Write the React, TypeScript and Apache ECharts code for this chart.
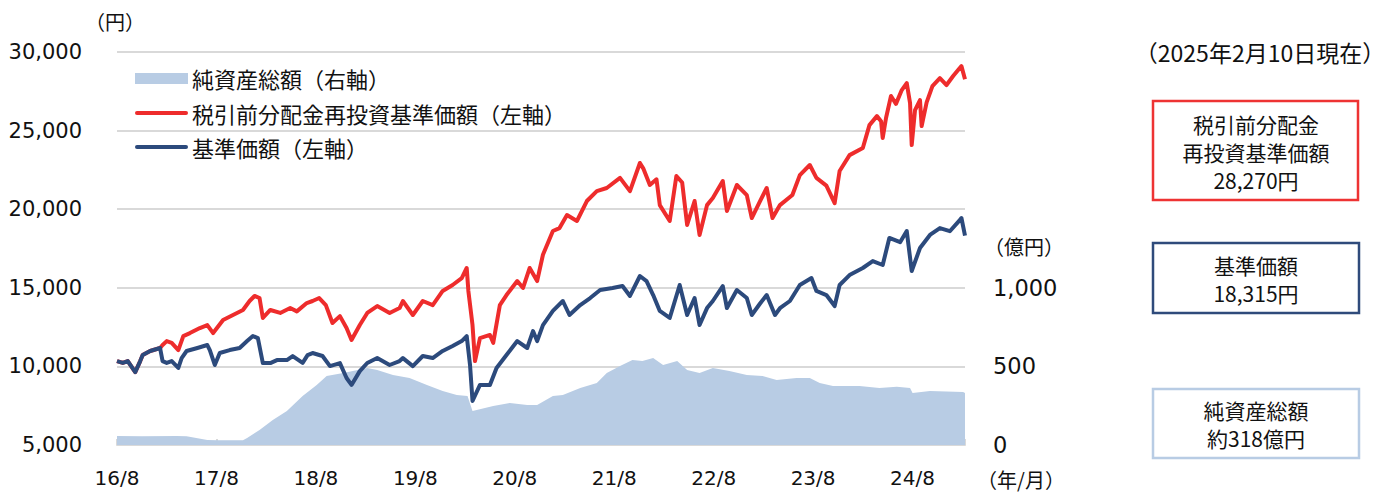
import React, { useEffect, useRef } from "react";
import * as echarts from "echarts";

// x = months since 2016/08 ; last point = 2025/02/10
const xTickLabels = ["16/8", "17/8", "18/8", "19/8", "20/8", "21/8", "22/8", "23/8", "24/8"];
const xMax = 102.33;

// 基準価額（左軸）
const navData: [number, number][] = [
  [0.0, 10340], [0.7, 10220], [1.3, 10340], [2.2, 9640], [2.8, 10340], [3.1, 10720], [4.0, 10980],
  [5.2, 11170], [5.5, 10340], [6.0, 10220], [6.6, 10340], [7.4, 9900], [7.8, 10530], [8.4, 10980],
  [9.7, 11170], [10.9, 11360], [11.2, 11040], [11.8, 10090], [12.4, 10850], [13.6, 11040],
  [14.8, 11170], [15.7, 11610], [16.4, 11930], [17.0, 11800], [17.6, 10210], [18.5, 10210],
  [19.3, 10400], [20.5, 10400], [21.2, 10660], [22.4, 10220], [23.0, 10720], [23.6, 10850],
  [24.8, 10660], [25.7, 10020], [26.9, 10210], [27.7, 9260], [28.3, 8820], [29.3, 9700],
  [30.2, 10216], [31.4, 10530], [32.9, 10090], [34.1, 10340], [34.5, 10530], [35.7, 10020],
  [36.9, 10660], [38.1, 10530], [39.3, 10980], [40.5, 11300], [41.6, 11610], [42.2, 11930],
  [42.6, 10090], [42.9, 7800], [43.8, 8820], [45.0, 8820], [45.8, 9900], [47.0, 10720],
  [48.3, 11610], [49.5, 11170], [50.2, 12250], [50.7, 11610], [51.4, 12630], [52.6, 13530],
  [53.8, 14160], [54.6, 13270], [55.9, 13900], [57.1, 14350], [58.3, 14860], [59.8, 14990],
  [61.0, 15110], [61.9, 14480], [63.1, 15750], [63.9, 15430], [64.7, 14540], [65.5, 13530],
  [66.7, 13080], [67.9, 15180], [68.8, 13270], [69.7, 14350], [70.3, 12630], [71.2, 13710],
  [71.9, 14160], [73.1, 15110], [73.6, 13710], [74.8, 14860], [76.0, 14350], [76.6, 13270],
  [77.6, 14000], [78.4, 14540], [79.4, 13270], [80.0, 13700], [81.2, 14160], [82.4, 15180],
  [83.8, 15620], [84.4, 14800], [85.6, 14540], [86.6, 13840], [87.2, 15180], [88.4, 15810],
  [90.0, 16260], [91.2, 16700], [92.4, 16450], [93.2, 18170], [94.5, 17900], [95.3, 18610],
  [95.9, 16070], [96.9, 17530], [98.1, 18360], [99.3, 18800], [100.5, 18600], [101.7, 19310],
  [101.9, 19440], [102.33, 18315],
];

// 税引前分配金再投資基準価額（左軸）
const reinvestData: [number, number][] = [
  [0.0, 10340], [0.7, 10220], [1.3, 10340], [2.2, 9640], [2.8, 10340], [3.1, 10720], [4.0, 10980],
  [5.2, 11170], [5.5, 11360], [6.0, 11610], [6.6, 11500], [7.4, 11040], [8.0, 11930], [8.8, 12120],
  [10.0, 12440], [10.9, 12630], [11.6, 12120], [12.8, 12950], [14.0, 13270], [15.2, 13590],
  [16.0, 14160], [16.6, 14480], [17.2, 14350], [17.6, 13080], [18.5, 13590], [19.7, 13400],
  [20.9, 13710], [21.7, 13500], [22.9, 14030], [23.6, 14160], [24.4, 14350], [25.2, 13900],
  [26.0, 12760], [26.9, 13200], [27.7, 12440], [28.3, 11680], [29.3, 12630], [30.2, 13400],
  [31.4, 13840], [32.9, 13400], [34.1, 13710], [34.5, 14160], [35.7, 13270], [36.9, 14160],
  [38.1, 13900], [39.3, 14800], [40.5, 15180], [41.6, 15620], [42.2, 16260], [42.4, 14800],
  [42.9, 12630], [43.2, 10340], [43.8, 11800], [45.0, 12000], [45.4, 11500], [46.2, 13900],
  [47.0, 14540], [48.3, 15430], [49.0, 14990], [49.8, 16260], [50.7, 15430], [51.4, 17100],
  [52.6, 18610], [53.4, 18800], [54.3, 19630], [55.5, 19250], [56.7, 20520], [57.9, 21150],
  [59.1, 21350], [60.7, 21990], [61.9, 21150], [63.1, 22940], [63.5, 22600], [64.3, 21540],
  [65.1, 21900], [65.5, 20260], [66.7, 19250], [67.5, 22110], [68.2, 21700], [68.8, 19000],
  [69.7, 20520], [70.3, 18360], [71.2, 20260], [71.9, 20710], [73.1, 21790], [73.6, 19880],
  [74.8, 21540], [76.0, 20900], [76.6, 19440], [77.6, 20520], [78.4, 21350], [79.1, 19440],
  [80.0, 20260], [81.5, 20900], [82.4, 22170], [83.6, 22810], [84.4, 21990], [85.6, 21500],
  [86.6, 20390], [87.2, 22430], [88.4, 23440], [90.0, 23890], [90.8, 25350], [91.7, 25920],
  [92.2, 25600], [92.4, 24530], [92.8, 25800], [93.4, 27200], [94.0, 26700], [94.7, 27580],
  [95.3, 28020], [95.7, 26750], [95.9, 24080], [96.3, 26300], [96.9, 26940], [97.1, 25290],
  [97.7, 26800], [98.4, 27830], [99.3, 28340], [100.1, 27900], [100.9, 28470], [101.7, 28980],
  [101.9, 29100], [102.33, 28270],
];

// 純資産総額（右軸, 億円）
const assetsData: [number, number][] = [
  [0.0, 57], [3.0, 56], [7.2, 57], [8.4, 55], [10.9, 32], [12.1, 30], [15.2, 30], [15.7, 45],
  [17.2, 95], [18.8, 159], [20.5, 216], [22.4, 312], [24.1, 382], [25.3, 439], [27.3, 458],
  [30.2, 490], [31.4, 477], [33.3, 445], [35.3, 426], [37.4, 382], [39.3, 343], [41.0, 318],
  [42.3, 312], [42.9, 216], [45.4, 248], [47.4, 267], [49.5, 254], [50.7, 254], [52.6, 312],
  [53.8, 318], [55.9, 362], [57.9, 394], [59.1, 458], [60.7, 502], [62.2, 541], [63.4, 534],
  [64.7, 553], [65.9, 509], [67.6, 534], [68.8, 477], [70.3, 458], [71.9, 490], [73.9, 471],
  [76.0, 445], [77.9, 439], [79.6, 413], [82.0, 426], [83.6, 426], [84.8, 394], [86.4, 375],
  [89.6, 375], [92.0, 362], [94.1, 370], [95.7, 362], [96.0, 331], [98.1, 343], [102.1, 337],
  [102.33, 330],
];

const RED = "#EE2C2C";
const BLUE = "#2C4A7C";
const AREA = "#B8CCE4";
const GRID = "#D9D9D9";
const JP = "'Noto Sans CJK JP', sans-serif";
const NUM = "'DejaVu Sans', sans-serif";

const fmt = (v: number) => v.toLocaleString("en-US");

const txt = (x: number, y: number, text: string, font: string, align = "center", lineHeight = 24) => ({
  type: "text",
  x,
  y,
  style: { text, font, fill: "#111", align, verticalAlign: "middle", lineHeight },
});

export default function App() {
  const ref = useRef<HTMLDivElement>(null);
  useEffect(() => {
    const chart = echarts.init(ref.current!, null, { renderer: "svg" });
    chart.setOption({
      animation: false,
      grid: { left: 117, right: 422, top: 52, bottom: 49 },
      xAxis: {
        type: "value",
        min: 0,
        max: xMax,
        interval: 12,
        axisLine: { show: true, onZero: false, lineStyle: { color: GRID, width: 2 } },
        axisTick: { show: true, inside: true, length: 6, lineStyle: { color: GRID, width: 2 } },
        splitLine: { show: false },
        axisLabel: {
          margin: 23,
          fontSize: 20,
          fontFamily: NUM,
          color: "#111",
          formatter: (v: number) => {
            const i = Math.round(v / 12);
            return Math.abs(v - i * 12) < 1e-6 ? xTickLabels[i] ?? "" : "";
          },
        },
      },
      yAxis: [
        {
          type: "value",
          min: 5000,
          max: 30000,
          interval: 5000,
          axisLine: { show: false },
          axisTick: { show: false },
          splitLine: { show: true, lineStyle: { color: GRID, width: 2 } },
          axisLabel: { margin: 35, fontSize: 21, fontFamily: NUM, color: "#111", formatter: (v: number) => fmt(v) },
        },
        {
          type: "value",
          position: "right",
          min: 0,
          max: 2500,
          interval: 500,
          axisLine: { show: false },
          axisTick: { show: false },
          splitLine: { show: false },
          axisLabel: {
            margin: 28,
            fontSize: 22.5,
            fontFamily: NUM,
            color: "#111",
            formatter: (v: number) => (v <= 1000 ? fmt(v) : ""),
          },
        },
      ],
      series: [
        {
          name: "純資産総額（右軸）",
          type: "line",
          yAxisIndex: 1,
          data: assetsData,
          symbol: "none",
          lineStyle: { width: 0 },
          areaStyle: { color: AREA, opacity: 1 },
          itemStyle: { color: AREA },
        },
        {
          name: "税引前分配金再投資基準価額（左軸）",
          type: "line",
          yAxisIndex: 0,
          data: reinvestData,
          symbol: "none",
          lineStyle: { width: 4, color: RED, join: "round" },
          itemStyle: { color: RED },
        },
        {
          name: "基準価額（左軸）",
          type: "line",
          yAxisIndex: 0,
          data: navData,
          symbol: "none",
          lineStyle: { width: 4, color: BLUE, join: "round" },
          itemStyle: { color: BLUE },
        },
      ],
      graphic: [
        txt(115, 21, "（円）", `20px ${JP}`),
        txt(1024, 246, "（億円）", `20px ${JP}`),
        txt(1021, 479, "（年/月）", `20px ${JP}`),
        // legend
        { type: "rect", shape: { x: 135, y: 73, width: 53, height: 11 }, style: { fill: AREA } },
        txt(192, 78, "純資産総額（右軸）", `22px ${JP}`, "left"),
        { type: "line", shape: { x1: 137, y1: 113, x2: 186, y2: 113 }, style: { stroke: RED, lineWidth: 4, lineCap: "round" } },
        txt(192, 113, "税引前分配金再投資基準価額（左軸）", `22px ${JP}`, "left"),
        { type: "line", shape: { x1: 137, y1: 147, x2: 186, y2: 147 }, style: { stroke: BLUE, lineWidth: 4, lineCap: "round" } },
        txt(192, 147, "基準価額（左軸）", `22px ${JP}`, "left"),
        // right side
        txt(1260, 52, "（2025年2月10日現在）", `23px ${JP}`),
        { type: "rect", shape: { x: 1153, y: 101, width: 205, height: 99 }, style: { fill: "#fff", stroke: "#EE3333", lineWidth: 2.5 } },
        txt(1256, 123.5, "税引前分配金", `21px ${JP}`),
        txt(1256, 151.5, "再投資基準価額", `21px ${JP}`),
        txt(1256, 179.5, "28,270円", `21px ${JP}`),
        { type: "rect", shape: { x: 1153, y: 243, width: 206, height: 70 }, style: { fill: "#fff", stroke: "#2F4B7B", lineWidth: 2.5 } },
        txt(1256, 264.5, "基準価額", `21px ${JP}`),
        txt(1256, 293, "18,315円", `21px ${JP}`),
        { type: "rect", shape: { x: 1153, y: 389, width: 206, height: 69 }, style: { fill: "#fff", stroke: AREA, lineWidth: 2.5 } },
        txt(1256, 409.5, "純資産総額", `21px ${JP}`),
        txt(1256, 438, "約318億円", `21px ${JP}`),
      ],
    });
    return () => chart.dispose();
  }, []);
  return <div ref={ref} style={{ position: "absolute", left: 0, top: 0, width: 1387, height: 494 }} />;
}
